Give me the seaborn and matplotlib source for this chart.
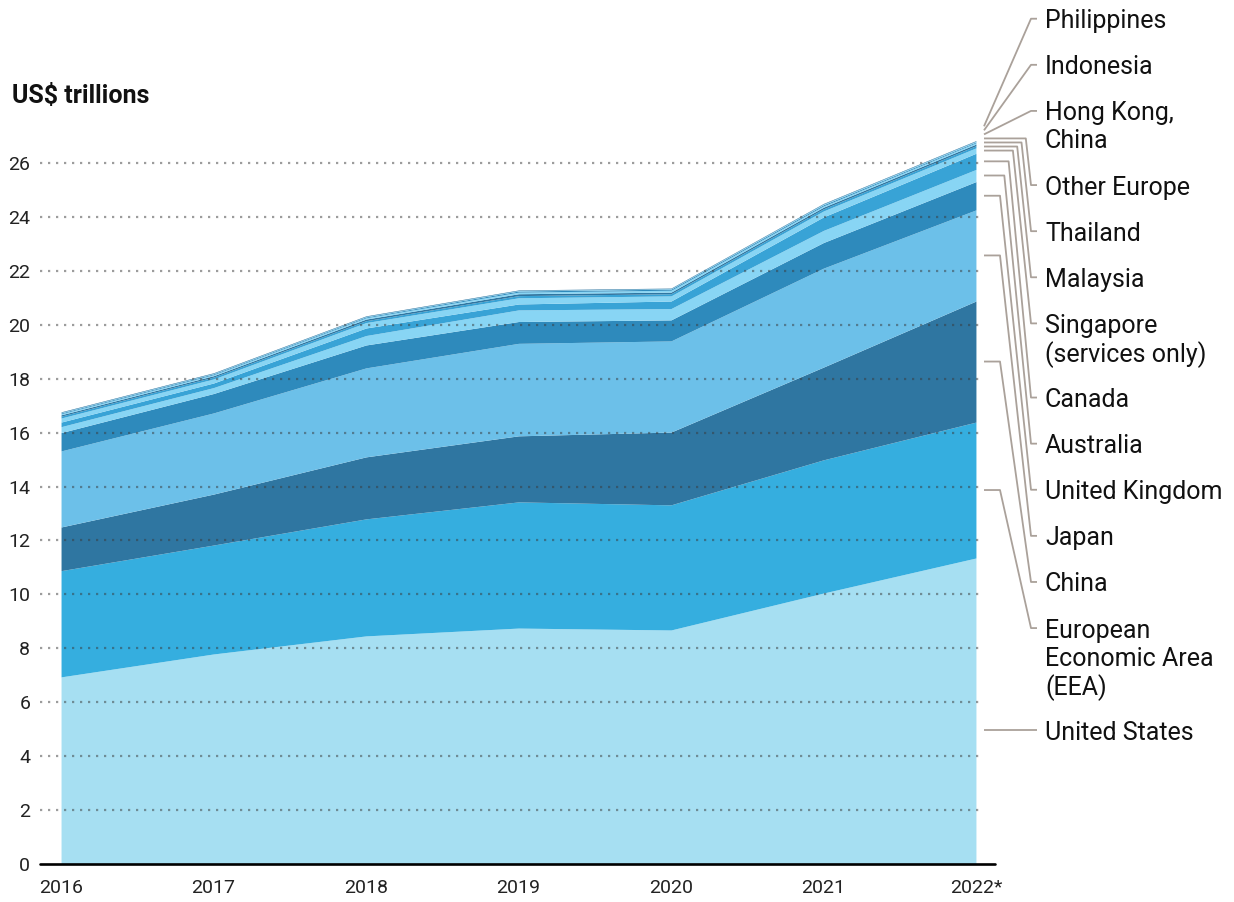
import numpy as np
import pandas as pd
import matplotlib.pyplot as plt
import matplotlib.transforms as mtransforms
import seaborn as sns

years = [2016, 2017, 2018, 2019, 2020, 2021, 2022]
year_labels = ['2016', '2017', '2018', '2019', '2020', '2021', '2022*']

# layers listed bottom to top
economies = ['United States', 'European\nEconomic Area\n(EEA)', 'China', 'Japan',
             'United Kingdom', 'Australia', 'Canada', 'Singapore\n(services only)',
             'Malaysia', 'Thailand', 'Other Europe', 'Hong Kong,\nChina',
             'Indonesia', 'Philippines']

united_states = [6.94, 7.79, 8.46, 8.75, 8.68, 10.05, 11.35]
eea = [3.94, 4.04, 4.34, 4.68, 4.64, 4.94, 5.04]
china = [1.62, 1.89, 2.30, 2.45, 2.70, 3.44, 4.49]
japan = [2.82, 3.01, 3.30, 3.43, 3.38, 3.67, 3.38]
united_kingdom = [0.68, 0.72, 0.85, 0.81, 0.78, 0.95, 1.05]
australia = [0.22, 0.22, 0.35, 0.43, 0.42, 0.45, 0.45]
canada = [0.17, 0.17, 0.28, 0.22, 0.28, 0.50, 0.60]
singapore = [0.15, 0.15, 0.20, 0.23, 0.19, 0.22, 0.20]
malaysia = [0.07, 0.07, 0.07, 0.08, 0.08, 0.08, 0.08]
thailand = [0.05, 0.05, 0.06, 0.07, 0.06, 0.06, 0.06]
other_europe = [0.04, 0.04, 0.05, 0.06, 0.07, 0.05, 0.05]
hong_kong = [0.03, 0.03, 0.03, 0.04, 0.04, 0.04, 0.03]
indonesia = [0.02, 0.02, 0.02, 0.02, 0.02, 0.03, 0.03]
philippines = [0.02, 0.02, 0.02, 0.02, 0.02, 0.02, 0.02]

colors = ['#a6dff2', '#35aedf', '#2f76a1', '#6cc0e9', '#2e8abc', '#88d5f4', '#38a3d6',
          '#88d5f4', '#38a3d6', '#2f76a1', '#88d5f4', '#2e8abc', '#88d5f4', '#2f76a1']

df = pd.DataFrame(
    dict(zip(economies, [united_states, eea, china, japan, united_kingdom, australia,
                         canada, singapore, malaysia, thailand, other_europe,
                         hong_kong, indonesia, philippines])),
    index=years)

sns.set_theme(style='white')
plt.rcParams['font.family'] = ['Roboto', 'DejaVu Sans']

fig = plt.figure(figsize=(12.34, 9.02), dpi=100)
ax = fig.add_axes([40 / 1234, 38 / 902, 955 / 1234, 728 / 902])

ax.stackplot(years, df.T.values, colors=colors, linewidth=0, zorder=2)

ax.set_xlim(2015.862, 2022.125)
ax.set_ylim(0, 27)
ax.set_xticks(years)
ax.set_xticklabels(year_labels)
ax.set_yticks(range(0, 27, 2))
ax.tick_params(axis='y', length=0, pad=7, labelsize=14, labelcolor='#222222')
ax.tick_params(axis='x', length=0, pad=11, labelsize=14, labelcolor='#222222')
sns.despine(ax=ax, left=True, bottom=True)
ax.grid(False)

# dotted gridlines on top of the areas
for v in range(2, 27, 2):
    ax.axhline(v, xmin=0, xmax=0.986, color='#3a3a3a', alpha=0.5, lw=1.6,
               dashes=(1, 2.6), zorder=3)
ax.axhline(0, color='black', lw=1.9, zorder=5, clip_on=False)

fig.text(12 / 1234, 1 - 96 / 902, 'US$ trillions', fontsize=18, fontweight='bold',
         va='center', ha='left', color='#111111')

# labels with connector lines on the right
blend = mtransforms.blended_transform_factory(ax.transAxes, ax.transData)
def fx(px):
    return (px - 40) / 955

last = df.loc[2022]
tops = last.cumsum()
mids = tops - last / 2

starts = []
for i, m in enumerate(mids):
    starts.append(m if i == 0 else max(m, starts[-1] + 0.15))

line_h = 1.04
gap = 1.71
cursor = 31.35
label_y = {}
for name in reversed(economies):
    label_y[name] = cursor
    cursor -= (name.count('\n')) * line_h + gap

line_color = '#aaa19a'
for i, name in enumerate(economies):
    ys = starts[i]
    yl = label_y[name]
    if i == 0:
        xs = [fx(984), fx(1037)]
        yv = [yl, yl]
    elif yl > ys:
        xs = [fx(984), fx(1031), fx(1037)]
        yv = [ys, yl, yl]
    else:
        rank = max(0, i - 4)
        xe = 1000 + 4.3 * rank
        xs = [fx(984), fx(xe), fx(1031), fx(1037)]
        yv = [ys, ys, yl, yl]
    ax.plot(xs, yv, color=line_color, lw=1.3, transform=blend, clip_on=False,
            zorder=4, solid_capstyle='butt')
    for j, txt in enumerate(name.split('\n')):
        ax.text(fx(1045), yl - j * line_h, txt, transform=blend, fontsize=18,
                va='center_baseline', ha='left', color='#111111', clip_on=False)

fig.savefig('out.png', dpi=100)
